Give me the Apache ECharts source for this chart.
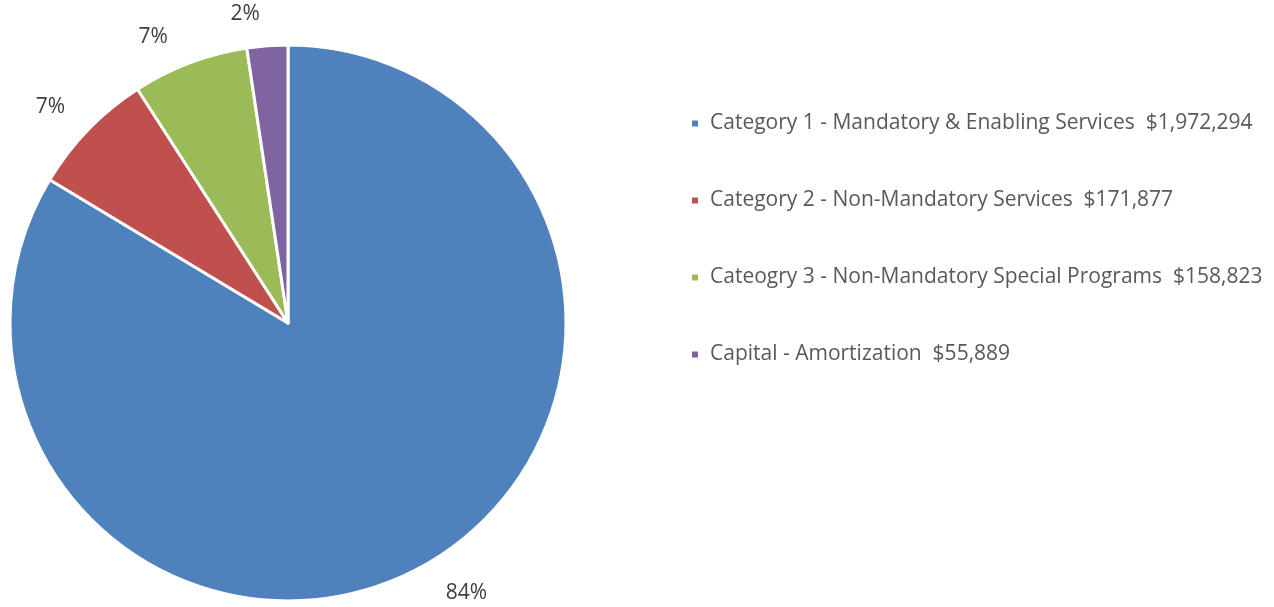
<!DOCTYPE html>
<html><head><meta charset="utf-8">
<script src="https://cdn.jsdelivr.net/npm/echarts@6/dist/echarts.min.js"></script>
<style>html,body{margin:0;padding:0;background:#fff}#c{width:1274px;height:607px}</style>
</head><body><div id="c"></div>
<script>
const categories = ["Category 1 - Mandatory & Enabling Services","Category 2 - Non-Mandatory Services","Cateogry 3 - Non-Mandatory Special Programs","Capital - Amortization"];
const values = [1972294, 171877, 158823, 55889];
const colors = ["#4F81BD","#C0504D","#9BBB59","#8064A2"];
const total = values.reduce((a,b)=>a+b,0);
const fmt = v => "$" + v.toLocaleString("en-US");
const chart = echarts.init(document.getElementById('c'));
chart.setOption({
  animation:false,
  color: colors,
  textStyle:{fontFamily:"Open Sans"},
  legend:{
    orient:'vertical', left:685, top:108, itemWidth:8, itemHeight:8, itemGap:56,
    icon:'rect',
    textStyle:{fontSize:21, lineHeight:20, color:'#595959', fontFamily:"Open Sans", padding:[0,0,0,6]},
    formatter: name => { const i = categories.indexOf(name); return name + "  " + fmt(values[i]); }
  },
  series:[{
    type:'pie', center:[288,323], radius:278, startAngle:90, clockwise:true,
    itemStyle:{borderColor:'#fff', borderWidth:3},
    label:{show:true, position:'outside', formatter: p => Math.round(p.value/total*100)+'%', fontSize:21, color:'#404040', fontFamily:"Open Sans"},
    labelLine:{show:false, length:32, length2:0},
    data: categories.map((n,i)=>({name:n, value:values[i]}))
  }]
});
</script></body></html>
